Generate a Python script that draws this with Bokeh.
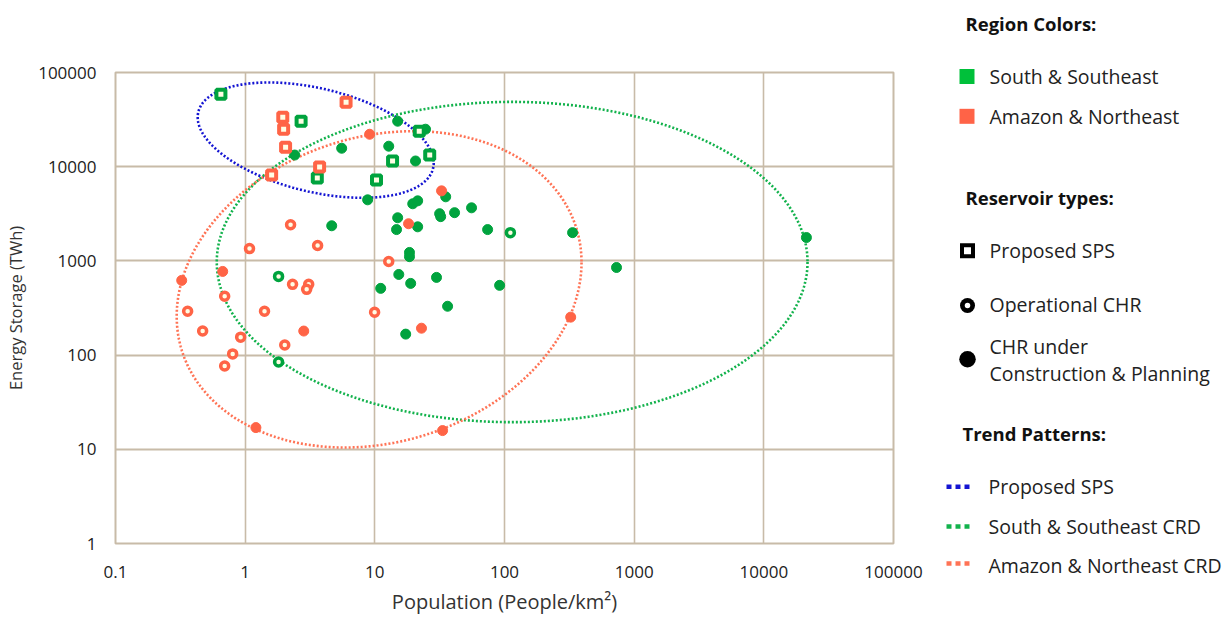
import numpy as np
from bokeh.plotting import figure
from bokeh.models import Range1d, FixedTicker, NumeralTickFormatter, LinearScale
from bokeh.embed import file_html
from bokeh.resources import INLINE
from bokeh.core.properties import value

# ---------------- data ----------------
# Proposed SPS (squares)
sps_ss_x = [0.65, 2.7, 3.6, 10.3, 13.7, 22, 26.5]
sps_ss_y = [58600, 30400, 7600, 7240, 11500, 23800, 13300]
sps_an_x = [6.0, 1.95, 1.98, 2.05, 3.75, 1.6]
sps_an_y = [48200, 33500, 25000, 16100, 9930, 8170]

# Operational CHR (hollow circles)
op_ss_x = [1.81, 1.81, 111]
op_ss_y = [684, 84.6, 1995]
op_an_x = [2.24, 3.62, 1.08, 12.8, 2.32, 3.09, 2.98, 0.695, 0.36, 1.41, 9.96, 0.47, 0.923, 2.02, 0.801, 0.695]
op_an_y = [2420, 1455, 1352, 986, 564, 564, 499, 421, 292, 292, 285, 180, 155, 128, 103, 76.7]

# CHR under construction & planning (filled circles)
cp_ss_x = [2.41, 5.55, 12.8, 15.0, 24.6, 20.6, 8.8, 4.65, 15.0, 14.7, 21.4, 19.6, 21.4, 35.2, 31.6,
           32.2, 41.2, 55.7, 74.1, 18.5, 18.5, 15.3, 18.9, 29.9, 11.1, 91.7, 36.4, 17.3, 335, 731, 21300]
cp_ss_y = [13300, 15700, 16500, 30400, 25000, 11500, 4450, 2360, 2870, 2150, 2300, 4040, 4340, 4790, 3170,
           2950, 3250, 3660, 2150, 1230, 1110, 718, 577, 668, 511, 550, 330, 167, 1995, 851, 1770]
cp_an_x = [9.12, 32.7, 18.2, 22.9, 324, 1.21, 33.3, 0.671, 0.324, 2.83]
cp_an_y = [22100, 5540, 2480, 193, 253, 17.0, 15.8, 773, 621, 180]

# Trend ellipses in log10 space: centre, half extents, phase (deg)
ell_names = ["Proposed SPS", "South & Southeast CRD", "Amazon & Northeast CRD"]
ell_cx = [0.544, 2.059, 1.033]
ell_cy = [4.282, 2.988, 2.698]
ell_hx = [0.910, 2.278, 1.561]
ell_hy = [0.612, 1.700, 1.679]
ell_phi = [113.4, 90.0, 80.2]

x_ticks = [0.1, 1, 10, 100, 1000, 10000, 100000]
y_ticks = [1, 10, 100, 1000, 10000, 100000]

region_labels = ["South & Southeast", "Amazon & Northeast"]
type_labels = ["Proposed SPS", "Operational CHR", "CHR under", "Construction & Planning"]
headers = ["Region Colors:", "Reservoir types:", "Trend Patterns:"]

# ---------------- styles ----------------
GREEN = "#00A33E"
ORANGE = "#FF6446"
CREAM = "#FFFDE4"
ELL_COLORS = ["#1414D2", "#12B24C", "#FF7355"]
SWATCH = ["#00C03A", "#FF6347"]
GRID = "#C8BBA8"
FONT = "Open Sans"

W, H = 1222, 617
BL, BR, BT, BB = 115, 329, 72, 72

p = figure(width=W, height=H, x_axis_type="log", y_axis_type="log",
           x_range=Range1d(0.1, 100000), y_range=Range1d(1, 100000),
           output_backend="svg", toolbar_location=None,
           min_border_left=BL, min_border_top=BT, min_border_bottom=BB, min_border_right=BR)
p.background_fill_color = "white"
p.border_fill_color = "white"
p.outline_line_color = GRID
p.outline_line_width = 2

# canvas-pixel ranges used for the legend area
p.extra_x_ranges = {"cx": Range1d(BL, W - BR)}
p.extra_y_ranges = {"cy": Range1d(H - BB, BT)}
p.extra_x_scales = {"cx": LinearScale()}
p.extra_y_scales = {"cy": LinearScale()}

p.xaxis.ticker = FixedTicker(ticks=x_ticks, minor_ticks=[])
p.yaxis.ticker = FixedTicker(ticks=y_ticks, minor_ticks=[])
p.xaxis.formatter = NumeralTickFormatter(format="0.[0]")
p.yaxis.formatter = NumeralTickFormatter(format="0.[0]")
for ax in (p.xaxis, p.yaxis):
    ax.axis_line_color = None
    ax.major_tick_line_color = None
    ax.minor_tick_line_color = None
    ax.major_label_text_font = FONT
    ax.major_label_text_font_size = "17px"
    ax.major_label_text_color = "#222222"
    ax.axis_label_text_font = FONT
    ax.axis_label_text_font_style = "normal"
    ax.axis_label_text_color = "#333333"
p.xaxis.axis_label = "Population (People/km²)"
p.yaxis.axis_label = "Energy Storage (TWh)"
p.xaxis.axis_label_text_font_size = "20px"
p.yaxis.axis_label_text_font_size = "16.5px"
p.xaxis.major_label_standoff = 16
p.xaxis.axis_label_standoff = 7
p.yaxis.major_label_standoff = 13
p.yaxis.axis_label_standoff = 8

p.xgrid.grid_line_color = GRID
p.xgrid.grid_line_width = 1.6
p.ygrid.grid_line_color = GRID
p.ygrid.grid_line_width = 2

# ellipses
t = np.linspace(0, 2 * np.pi, 400)
for cx, cy, hx, hy, ph, col in zip(ell_cx, ell_cy, ell_hx, ell_hy, ell_phi, ELL_COLORS):
    lx = cx + hx * np.cos(t)
    ly = cy + hy * np.cos(t + np.radians(ph))
    p.line(10 ** lx, 10 ** ly, line_color=col, line_width=2.6, line_dash="2 2", line_cap="butt")

# filled circles
p.scatter(cp_ss_x, cp_ss_y, marker="circle", size=10, fill_color=GREEN, line_color=GREEN, line_width=1)
p.scatter(cp_an_x, cp_an_y, marker="circle", size=10, fill_color=ORANGE, line_color=ORANGE, line_width=1)
# hollow circles
p.scatter(op_ss_x, op_ss_y, marker="circle", size=8, fill_color=CREAM, line_color=GREEN, line_width=3.5)
p.scatter(op_an_x, op_an_y, marker="circle", size=8, fill_color=CREAM, line_color=ORANGE, line_width=3.5)
# squares
p.scatter(sps_ss_x, sps_ss_y, marker="square", size=9, fill_color=CREAM, line_color=GREEN, line_width=4)
p.scatter(sps_an_x, sps_an_y, marker="square", size=9, fill_color=CREAM, line_color=ORANGE, line_width=4)

# ---------------- legend (canvas pixel coordinates, drawn above the frame clip) ----------------
kw = dict(x_range_name="cx", y_range_name="cy", level="overlay")

p.text([965, 965, 962], [23, 198, 435], text=headers, text_font=value(FONT), text_font_style="bold",
       text_font_size="18.5px", text_baseline="alphabetic", text_align="left", text_color="#111111", **kw)
item_x = [989] * 6 + [988] * 3
item_y = [76, 116, 251, 305, 347, 374, 488, 528, 567]
p.text(item_x, item_y, text=region_labels + type_labels + ell_names, text_font=value(FONT),
       text_font_size="19.5px", text_baseline="alphabetic", text_align="left", text_color="#222222", **kw)

# colour swatches (thick butt-capped segments = squares)
p.segment(x0=[959, 959], y0=[76, 116], x1=[974, 974], y1=[76, 116],
          line_color=SWATCH, line_width=15, line_cap="butt", **kw)
# hollow square
p.segment(x0=[959.5], y0=[251], x1=[974.5], y1=[251], line_color="black", line_width=15, line_cap="butt", **kw)
p.segment(x0=[963.5], y0=[251], x1=[970.5], y1=[251], line_color="white", line_width=7, line_cap="butt", **kw)
# ring and dot (round-capped tiny segments)
p.segment(x0=[967, 967], y0=[306, 360], x1=[967.01, 967.01], y1=[306, 360],
          line_color="black", line_width=[15, 16.5], line_cap="round", **kw)
p.segment(x0=[967], y0=[306], x1=[967.01], y1=[306], line_color="white", line_width=5.5, line_cap="round", **kw)
# dotted trend samples
p.segment(x0=[946, 946, 946], y0=[488, 528, 565], x1=[969, 969, 969], y1=[488, 528, 565],
          line_color=ELL_COLORS, line_width=4.5, line_dash="5 4", line_cap="butt", **kw)

open("out.html", "w").write(file_html(p, INLINE))
